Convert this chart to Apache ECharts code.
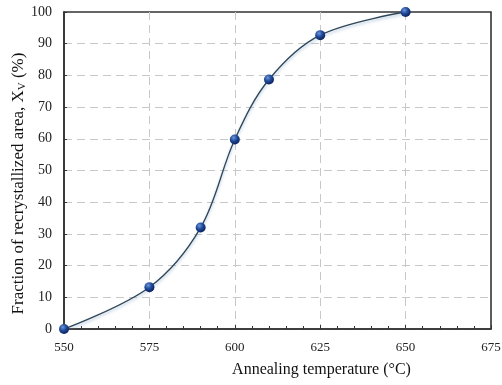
<!DOCTYPE html>
<html><head><meta charset="utf-8">
<script src="https://cdn.jsdelivr.net/npm/echarts@6/dist/echarts.min.js"></script>
<style>html,body{margin:0;padding:0;background:#fff}#c{width:502px;height:385px}</style>
</head><body><div id="c"></div>
<script>
const temperatures = [550, 575, 590, 600, 610, 625, 650];
const fractions = [0, 13.2, 32, 59.8, 78.7, 92.7, 100];
const xTicks = [550, 575, 600, 625, 650, 675];
const yTicks = [0, 10, 20, 30, 40, 50, 60, 70, 80, 90, 100];

const font = '"Liberation Serif", "DejaVu Serif", serif';
const chart = echarts.init(document.getElementById('c'));
chart.setOption({
  animation: false,
  grid: { left: 64, right: 11, top: 12, bottom: 56, show: true, borderColor: '#333', borderWidth: 1.6,
    backgroundColor: 'transparent', containLabel: false, outerBoundsMode: 'none' },
  xAxis: {
    type: 'value', min: xTicks[0], max: xTicks[xTicks.length - 1], interval: 25,
    name: 'Annealing temperature (°C)', nameLocation: 'middle', nameGap: 33, nameMoveOverlap: false,
    nameTextStyle: { fontFamily: font, fontSize: 16, color: '#111', padding: [0, 0, 0, 88] },
    axisLine: { lineStyle: { color: '#333', width: 1.6 } },
    axisTick: { show: true, inside: true, length: 4, lineStyle: { color: '#333' } },
    minorTick: { show: true, splitNumber: 5, length: 3, lineStyle: { color: '#333' } },
    axisLabel: { fontFamily: font, fontSize: 13, color: '#222', margin: 12 },
    splitLine: { show: true, showMinLine: false, showMaxLine: false, lineStyle: { color: '#c8c8c8', type: [8, 5], width: 1 } }
  },
  yAxis: {
    type: 'value', min: yTicks[0], max: yTicks[yTicks.length - 1], interval: 10,
    name: 'Fraction of recrystallized area, X{sub|V} (%)', nameLocation: 'middle', nameGap: 36, nameMoveOverlap: false,
    nameTextStyle: { fontFamily: font, fontSize: 17, color: '#111', padding: [0, 26, 0, 0],
      rich: { sub: { fontFamily: font, fontSize: 11, color: '#111', verticalAlign: 'bottom', padding: [7, 0, 0, 0] } } },
    axisLine: { show: true, lineStyle: { color: '#333', width: 1.6 } },
    axisTick: { show: true, inside: true, length: 3, lineStyle: { color: '#333' } },
    axisLabel: { fontFamily: font, fontSize: 14, color: '#222', margin: 12 },
    splitLine: { show: true, showMinLine: false, showMaxLine: false, lineStyle: { color: '#c8c8c8', type: [8, 5], width: 1 } }
  },
  series: [{
    type: 'line',
    data: temperatures.map((t, i) => [t, fractions[i]]),
    smooth: 0.35,
    symbol: 'circle', symbolSize: 10,
    lineStyle: { color: '#2f4558', width: 1.3, shadowColor: 'rgba(110,150,190,0.55)', shadowBlur: 3, shadowOffsetY: 2 },
    itemStyle: {
      color: { type: 'radial', x: 0.38, y: 0.32, r: 0.7,
        colorStops: [{ offset: 0, color: '#6f95d8' }, { offset: 0.5, color: '#1f4a9a' }, { offset: 1, color: '#0b1f5a' }] },
      borderWidth: 0
    },
    z: 5
  }]
});
</script></body></html>
